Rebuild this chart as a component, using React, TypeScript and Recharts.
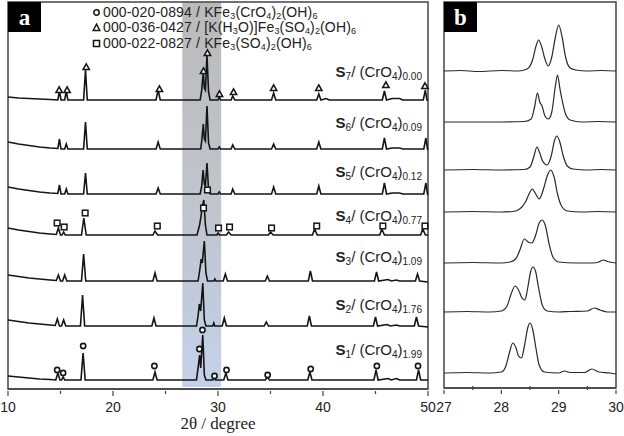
import React from 'react'
import {
  ComposedChart, Line, Scatter, XAxis, YAxis, ReferenceArea,
} from 'recharts'

// ---------------------------------------------------------------------------
// Data. Panel a: [2θ, intensity above baseline]
// ---------------------------------------------------------------------------

const SAMPLES = ['S1', 'S2', 'S3', 'S4', 'S5', 'S6', 'S7']
const SAMPLE_SUB = ['1', '2', '3', '4', '5', '6', '7']
const CRO4_CONTENT = ['1.99', '1.76', '1.09', '0.77', '0.12', '0.09', '0.00']

// vertical stacking offsets (a.u.)
const OFFSETS_A = [9, 63, 108, 154, 195, 240, 289]
const OFFSETS_B = [15, 76, 125, 176, 218, 266, 317]

const A_S1 = [[10,4],[11,3],[12,2],[13,1],[14,0.5],[14.55,0],[14.75,7],[14.95,0],[15.1,0],[15.25,3],[15.4,0],[16.95,0],[17.15,27],[17.35,0],[23.8,0],[24,8],[24.2,0],[27.95,0],[28.1,12],[28.25,25],[28.35,12],[28.55,45],[28.7,5],[28.85,0],[29.5,0],[29.62,3],[29.75,0],[30.55,0],[30.75,7],[30.95,0],[34.5,0],[34.7,3],[34.9,0],[38.55,0],[38.75,8],[38.95,0],[44.85,0],[45.05,10],[45.25,0],[46.2,1.5],[46.5,0],[47,1.5],[47.3,0],[48.9,0],[49.1,10],[49.3,0],[50,0]]
const A_S2 = [[10,6],[11,4.5],[12,3],[13,2],[14,1],[14.5,0.5],[14.7,7],[14.9,0],[15.1,0],[15.3,6],[15.5,0],[16.9,0],[17.1,31],[17.3,0],[23.7,0],[23.9,8],[24.1,0],[27.95,0],[28.1,10],[28.22,22],[28.35,15],[28.55,43],[28.7,6],[28.85,0],[29.5,0],[29.6,3],[29.7,0],[30.4,0],[30.6,8],[30.8,0],[34.4,0],[34.6,4],[34.8,0],[38.5,0],[38.7,10],[38.9,0],[44.8,0],[45,9],[45.2,0],[46.1,1.5],[46.4,0],[47,1],[47.3,0],[48.7,0],[48.9,9],[49.1,0],[50,-1]]
const A_S3 = [[10,6],[11,4.5],[12,3],[13,2],[14,1],[14.6,0.5],[14.8,6],[15,0],[15.2,0],[15.4,6],[15.6,0],[17,0],[17.2,27],[17.4,0],[23.8,0],[24,8],[24.2,0],[28.1,0],[28.25,10],[28.4,22],[28.5,18],[28.7,40],[28.85,8],[29,0],[29.6,0],[29.7,2],[29.8,0],[30.5,0],[30.7,7],[30.9,0],[34.5,0],[34.7,5],[34.9,0],[38.6,0],[38.8,10],[39,0],[44.9,0],[45.1,9],[45.3,0],[46.2,1.5],[46.5,0],[47,1],[47.3,0],[48.8,0],[49,7],[49.2,0],[50,-1]]
const A_S4 = [[10,7],[11,5],[12,3.5],[13,2],[14,1],[14.6,0.5],[14.8,7],[15,0],[15.15,0],[15.3,3],[15.45,0],[17,0],[17.22,17],[17.45,0],[23.8,0],[24,4],[24.25,0],[28,0],[28.25,10],[28.4,20],[28.5,28],[28.65,35],[28.8,10],[28.95,0],[29.9,0],[30,2],[30.15,0],[30.8,0],[31,3],[31.25,0],[34.8,0],[35,3],[35.25,0],[39,0],[39.2,6],[39.45,0],[45.4,0],[45.6,6],[45.85,0],[49.3,0],[49.5,6],[49.75,0],[50,0]]
const A_S5 = [[10,7],[11,5],[12,3.5],[13,2],[14,1],[14.75,0.5],[14.9,9],[15.05,0],[15.4,0],[15.55,5],[15.7,0],[17.2,0],[17.38,21],[17.55,0],[24.1,0],[24.3,6],[24.5,0],[28.3,0],[28.45,8],[28.58,24],[28.7,10],[28.8,8],[28.95,31],[29.1,5],[29.25,0],[30,0],[30.12,2],[30.25,0],[31.25,0],[31.4,5],[31.6,0],[35.1,0],[35.3,7],[35.5,0],[39.4,0],[39.6,8],[39.8,0],[45.65,0],[45.85,11],[46.05,0],[46.6,1],[47.3,1],[47.6,0],[49.6,0],[49.8,11],[49.95,0],[50,-1]]
const A_S6 = [[10,7],[11,5],[12,3.5],[13,2],[14,1],[14.75,0.5],[14.9,10],[15.05,0],[15.4,0],[15.55,5],[15.7,0],[17.2,0],[17.38,27],[17.55,0],[24.1,0],[24.3,7],[24.5,0],[28.35,0],[28.45,8],[28.6,25],[28.7,10],[28.8,8],[28.95,43],[29.1,6],[29.25,0],[30,0],[30.12,2],[30.25,0],[31.25,0],[31.4,4],[31.6,0],[35.1,0],[35.3,5],[35.5,0],[39.4,0],[39.6,7],[39.8,0],[45.65,0],[45.85,11],[46.05,0],[46.6,1],[47.3,1],[47.6,0],[49.6,0],[49.8,11],[49.95,0],[50,-1]]
const A_S7 = [[10,3],[11,2],[12,1.5],[13,1],[14,0.5],[14.75,0],[14.9,9],[15.05,0],[15.4,0],[15.55,9],[15.7,0],[17.2,0],[17.38,30],[17.55,0],[24.1,0],[24.3,10],[24.5,0],[28.3,0],[28.45,10],[28.6,28],[28.7,12],[28.8,10],[28.95,45],[29.1,8],[29.25,0],[30,0],[30.12,3],[30.25,0],[31.25,0],[31.4,4],[31.6,0],[35.1,0],[35.3,7],[35.5,0],[39.4,0],[39.6,6],[39.8,0],[40.3,1.5],[40.6,0],[45.65,0],[45.85,9],[46.05,0],[46.6,1.5],[47.3,1.5],[47.6,0],[49.55,0],[49.75,10],[49.9,0],[50,0]]

// Panel b: zoom on 27–30°
const B_S1 = [[27,0],[27.4,0.5],[27.8,0],[28,1],[28.08,7],[28.14,20],[28.2,30],[28.25,26],[28.3,17],[28.35,15],[28.4,26],[28.46,45],[28.5,50],[28.55,43],[28.6,26],[28.66,8],[28.75,1],[29,0],[29.1,2],[29.2,0.5],[29.45,0.5],[29.58,4],[29.7,1],[29.9,0],[30,-1]]
const B_S2 = [[27,0],[27.4,0.5],[27.8,0],[28,1],[28.1,6],[28.17,18],[28.24,26],[28.3,22],[28.36,14],[28.41,12],[28.46,24],[28.51,40],[28.55,45],[28.6,40],[28.65,24],[28.72,6],[28.8,1],[29,0],[29.2,0.5],[29.5,1],[29.62,4],[29.72,2],[29.85,0],[30,0]]
const B_S3 = [[27,0],[27.5,0.5],[28,0],[28.15,1],[28.25,4],[28.33,14],[28.4,24],[28.47,21],[28.53,20],[28.6,28],[28.66,40],[28.71,43],[28.77,37],[28.83,20],[28.9,6],[29,1],[29.3,0],[29.6,0],[29.7,1],[29.78,3],[29.85,1.5],[30,0]]
const B_S4 = [[27,0],[27.5,0.5],[28,0],[28.2,0.5],[28.32,3],[28.42,10],[28.5,20],[28.54,23],[28.6,18],[28.66,13],[28.73,22],[28.8,36],[28.86,42],[28.92,35],[28.98,18],[29.05,6],[29.15,1],[29.4,0],[29.7,0.5],[30,0]]
const B_S5 = [[27,0],[27.5,0.5],[28,0],[28.4,0.5],[28.5,3],[28.57,14],[28.62,23],[28.67,17],[28.72,9],[28.8,5],[28.87,14],[28.93,30],[28.97,34],[29.02,28],[29.08,14],[29.15,4],[29.25,1],[29.5,0],[29.75,0.5],[30,0]]
const B_S6 = [[27,0],[27.5,0],[28,0],[28.4,0.5],[28.52,3],[28.58,15],[28.63,29],[28.67,20],[28.71,16],[28.76,6],[28.82,3],[28.88,10],[28.94,35],[28.98,47],[29.02,34],[29.06,22],[29.12,8],[29.2,2],[29.4,0],[29.7,0.5],[30,0]]
const B_S7 = [[27,0],[27.3,0.5],[27.6,-0.5],[28,0.5],[28.3,0],[28.45,2],[28.55,12],[28.6,24],[28.65,31],[28.7,25],[28.76,12],[28.82,5],[28.88,14],[28.94,33],[29,46],[29.06,34],[29.12,14],[29.2,3],[29.3,1],[29.5,0],[29.75,0.5],[30,0]]

// Phase reference markers [2θ, height] in panel a units
const CIRCLE_MARKS = [[14.68,19],[15.25,16],[17.16,43],[23.94,23],[28.23,40],[28.52,59],[29.67,13],[30.81,19],[34.73,14],[38.83,20],[45.13,23],[49.05,23]]
const TRIANGLE_MARKS = [[14.87,299],[15.63,299],[17.45,322],[24.42,300],[28.62,318],[29.0,336],[30.14,295],[31.48,297],[35.3,301],[39.6,301],[45.99,304],[49.71,303]]
const SQUARE_MARKS = [[14.68,166],[15.35,162],[17.35,176],[24.22,163],[28.62,181],[29.0,199],[30.05,161],[31.1,162],[35.1,161],[39.4,163],[45.7,163],[49.71,163]]

const A_TRACES = [A_S1, A_S2, A_S3, A_S4, A_S5, A_S6, A_S7]
const B_TRACES = [B_S1, B_S2, B_S3, B_S4, B_S5, B_S6, B_S7]
const A_TICKS = [10, 15, 20, 25, 30, 35, 40, 45, 50]
const B_TICKS = [27, 27.5, 28, 28.5, 29, 29.5, 30]
const BAND = [26.6, 30.3]

// ---------------------------------------------------------------------------
// Styling
// ---------------------------------------------------------------------------

const SANS = '"Liberation Sans", Arial, sans-serif'
const SERIF = '"Liberation Serif", "Times New Roman", serif'
const AXIS = '#444'
const INK = '#151515'

const toPoints = (list: number[][], offset: number) =>
  list.map(([x, h]) => ({ x, y: offset + h }))

const asPoints = (list: number[][]) => list.map(([x, y]) => ({ x, y }))

function TickA({ x, y, payload }: any) {
  const major = payload.value % 10 === 0
  return (
    <g>
      <line x1={x} x2={x} y1={y} y2={y + (major ? 5 : 3)} stroke={AXIS} strokeWidth={1.2} />
      {major && (
        <text x={x} y={y + 21} textAnchor="middle" fontSize={14} fontFamily={SANS} fill="#222">
          {payload.value}
        </text>
      )}
    </g>
  )
}

function TickB({ x, y, payload }: any) {
  const major = Number.isInteger(payload.value)
  return (
    <g>
      <line x1={x} x2={x} y1={y} y2={major ? y + 4 : y - 4} stroke={AXIS} strokeWidth={1.2} />
      {major && (
        <text x={x} y={y + 22} textAnchor="middle" fontSize={14} fontFamily={SANS} fill="#222">
          {payload.value}
        </text>
      )}
    </g>
  )
}

const circleShape = ({ cx, cy }: any) => (
  <circle cx={cx} cy={cy} r={2.6} fill="#fff" stroke={INK} strokeWidth={1.6} />
)
const triangleShape = ({ cx, cy }: any) => (
  <polygon points={`${cx},${cy - 3.2} ${cx + 3.2},${cy + 2.6} ${cx - 3.2},${cy + 2.6}`} fill="#fff" stroke={INK} strokeWidth={1.5} />
)
const squareShape = ({ cx, cy }: any) => (
  <rect x={cx - 2.8} y={cy - 2.8} width={5.6} height={5.6} fill="#fff" stroke={INK} strokeWidth={1.5} />
)

const subStyle: React.CSSProperties = { fontSize: 10, verticalAlign: -3, lineHeight: 0 }
const legendSub: React.CSSProperties = { fontSize: 9, verticalAlign: -1.5, lineHeight: 0 }

function Formula({ parts }: { parts: (string | [string])[] }) {
  return (
    <>
      {parts.map((p, i) =>
        typeof p === 'string' ? <span key={i}>{p}</span> : <span key={i} style={legendSub}>{p[0]}</span>
      )}
    </>
  )
}

const LEGEND = [
  { code: '000-020-0894', shape: 'circle', formula: ['KFe', ['3'], '(CrO', ['4'], ')', ['2'], '(OH)', ['6']] },
  { code: '000-036-0427', shape: 'triangle', formula: ['[K(H', ['3'], 'O)]Fe', ['3'], '(SO', ['4'], ')', ['2'], '(OH)', ['6']] },
  { code: '000-022-0827', shape: 'square', formula: ['KFe', ['3'], '(SO', ['4'], ')', ['2'], '(OH)', ['6']] },
] as const

function LegendMark({ shape }: { shape: string }) {
  return (
    <svg width={9} height={9} style={{ marginRight: 2, verticalAlign: 0 }}>
      {shape === 'circle' && <circle cx={4.5} cy={4.5} r={2.7} fill="#fff" stroke={INK} strokeWidth={1.5} />}
      {shape === 'triangle' && <polygon points="4.5,1.2 7.8,7.5 1.2,7.5" fill="#fff" stroke={INK} strokeWidth={1.5} />}
      {shape === 'square' && <rect x={1.5} y={1.5} width={6} height={6} fill="#fff" stroke={INK} strokeWidth={1.5} />}
    </svg>
  )
}

// label centre y for each sample (S1..S7)
const LABEL_Y = [350, 305, 257, 216, 172, 123, 72]

function PanelBadge({ left, text }: { left: number; text: string }) {
  return (
    <div style={{
      position: 'absolute', left, top: 2, width: 33, height: 30, background: '#000',
      color: '#fff', fontFamily: SERIF, fontWeight: 'bold', fontSize: 23,
      display: 'flex', alignItems: 'center', justifyContent: 'center', lineHeight: 1,
    }}>{text}</div>
  )
}

export default function App() {
  return (
    <div style={{ position: 'absolute', left: 0, top: 0, width: 624, height: 436, background: '#fff', overflow: 'hidden' }}>
      {/* Panel a */}
      <div style={{ position: 'absolute', left: 0, top: 0 }}>
        <ComposedChart width={440} height={436} margin={{ top: 2, right: 12, bottom: 0, left: 8 }}>
          <defs>
            <linearGradient id="bandFill" x1="0" y1="0" x2="0" y2="1">
              <stop offset="0%" stopColor="#bababa" />
              <stop offset="50%" stopColor="#c0c4cc" />
              <stop offset="100%" stopColor="#c3d1ea" />
            </linearGradient>
          </defs>
          <XAxis type="number" dataKey="x" domain={[10, 50]} ticks={A_TICKS} interval={0}
            height={47} tickSize={0} tickLine={false} tick={<TickA />}
            axisLine={{ stroke: AXIS, strokeWidth: 1.5 }} />
          <YAxis type="number" dataKey="y" domain={[0, 387]} hide />
          <ReferenceArea x1={BAND[0]} x2={BAND[1]} y1={2} y2={387} fill="url(#bandFill)" fillOpacity={1} stroke="none" />
          {A_TRACES.map((t, i) => (
            <Line key={SAMPLES[i]} data={toPoints(t, OFFSETS_A[i])} dataKey="y" type="linear"
              stroke={INK} strokeWidth={1.6} dot={false} isAnimationActive={false} />
          ))}
          <Scatter data={asPoints(CIRCLE_MARKS)} dataKey="y" shape={circleShape} isAnimationActive={false} />
          <Scatter data={asPoints(TRIANGLE_MARKS)} dataKey="y" shape={triangleShape} isAnimationActive={false} />
          <Scatter data={asPoints(SQUARE_MARKS)} dataKey="y" shape={squareShape} isAnimationActive={false} />
          <ReferenceArea x1={10} x2={50} y1={0} y2={387} fill="none" stroke={AXIS} strokeWidth={1.5} />
        </ComposedChart>
      </div>

      {/* Panel b */}
      <div style={{ position: 'absolute', left: 430, top: 0 }}>
        <ComposedChart width={194} height={436} margin={{ top: 2, right: 8, bottom: 0, left: 14 }}>
          <XAxis type="number" dataKey="x" domain={[27, 30]} ticks={B_TICKS} interval={0}
            height={48} tickSize={0} tickLine={false} tick={<TickB />}
            axisLine={{ stroke: AXIS, strokeWidth: 1.5 }} />
          <YAxis type="number" dataKey="y" domain={[0, 386]} hide />
          {B_TRACES.map((t, i) => (
            <Line key={SAMPLES[i]} data={toPoints(t, OFFSETS_B[i])} dataKey="y" type="monotone"
              stroke="#2a2a2a" strokeWidth={1.2} dot={false} isAnimationActive={false} />
          ))}
          <ReferenceArea x1={27} x2={30} y1={0} y2={386} fill="none" stroke={AXIS} strokeWidth={1.5} />
        </ComposedChart>
      </div>

      <PanelBadge left={8} text="a" />
      <PanelBadge left={444} text="b" />

      {/* Legend */}
      <div style={{ position: 'absolute', left: 92, top: 4.5, fontFamily: SANS, fontSize: 14, color: '#222', lineHeight: '15.5px' }}>
        {LEGEND.map((l) => (
          <div key={l.code} style={{ whiteSpace: 'nowrap', height: 15.5, letterSpacing: 0.15 }}>
            <LegendMark shape={l.shape} />
            {l.code} / <Formula parts={l.formula as any} />
          </div>
        ))}
      </div>

      {/* Sample labels */}
      {SAMPLES.map((s, i) => (
        <div key={s} style={{
          position: 'absolute', right: 624 - 422, top: LABEL_Y[i] - 9, fontFamily: SANS,
          fontSize: 15, color: '#222', whiteSpace: 'nowrap', lineHeight: '18px',
        }}>
          <span style={{ fontWeight: 'bold' }}>S</span>
          <span style={subStyle}>{SAMPLE_SUB[i]}</span>/ (CrO<span style={subStyle}>4</span>)
          <span style={subStyle}>{CRO4_CONTENT[i]}</span>
        </div>
      ))}

      {/* x-axis title */}
      <div style={{ position: 'absolute', left: 8, width: 420, top: 414, textAlign: 'center', fontFamily: SERIF, fontSize: 17, color: '#222' }}>
        2θ / degree
      </div>
    </div>
  )
}
